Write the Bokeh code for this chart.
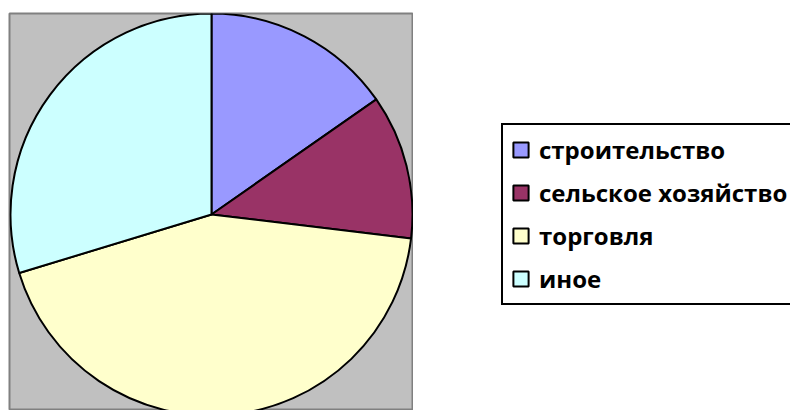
import numpy as np
from bokeh.plotting import figure
from bokeh.layouts import row
from bokeh.models import Range1d, Legend, LegendItem, ColumnDataSource
from bokeh.embed import file_html
from bokeh.resources import INLINE

categories = ["строительство", "сельское хозяйство", "торговля", "иное"]
shares = [15.3, 11.6, 43.4, 29.7]
colors = ["#9999FF", "#993366", "#FFFFCC", "#CCFFFF"]

vals = np.array(shares, dtype=float)
frac = vals / vals.sum()
cum_end = np.cumsum(frac)
cum_start = cum_end - frac
start_angle = np.pi / 2 - 2 * np.pi * cum_start
end_angle = np.pi / 2 - 2 * np.pi * cum_end

src = ColumnDataSource(dict(cat=categories, start=start_angle, end=end_angle, color=colors))

p = figure(width=413, height=410, output_backend="svg", toolbar_location=None,
           x_range=Range1d(-202, 202), y_range=Range1d(-196, 201),
           min_border_left=9, min_border_top=13, min_border_right=0, min_border_bottom=0)
p.axis.visible = False
p.grid.visible = False
p.background_fill_color = "#C0C0C0"
p.border_fill_color = "white"
p.outline_line_color = "#808080"
p.outline_line_width = 2

p.wedge(x=0, y=0, radius=201, start_angle="start", end_angle="end", direction="clock",
        fill_color="color", line_color="black", line_width=2, source=src)

# legend panel: the wedges are drawn here as well, but the view range is off to the side
q = figure(width=377, height=410, output_backend="svg", toolbar_location=None,
           x_range=Range1d(10, 11), y_range=Range1d(10, 11),
           min_border=0)
q.axis.visible = False
q.grid.visible = False
q.outline_line_color = None
q.background_fill_color = "white"
q.border_fill_color = "white"
r = q.wedge(x=0, y=0, radius=1, start_angle="start", end_angle="end", direction="clock",
            fill_color="color", line_color="black", line_width=2, source=src)

items = [LegendItem(label=c, renderers=[r], index=i) for i, c in enumerate(categories)]
legend = Legend(items=items, location=(88, 105), orientation="vertical",
                glyph_width=19, glyph_height=19, label_standoff=9,
                label_text_font="Open Sans", label_text_font_style="bold",
                label_text_font_size="24px", label_text_color="black",
                label_height=20, spacing=10,
                padding=8, margin=0,
                border_line_color="black", border_line_width=2, border_line_alpha=1.0,
                background_fill_color="white", background_fill_alpha=1.0)
q.add_layout(legend, "center")

layout = row(p, q, spacing=0)
open("out.html", "w").write(file_html(layout, INLINE))
